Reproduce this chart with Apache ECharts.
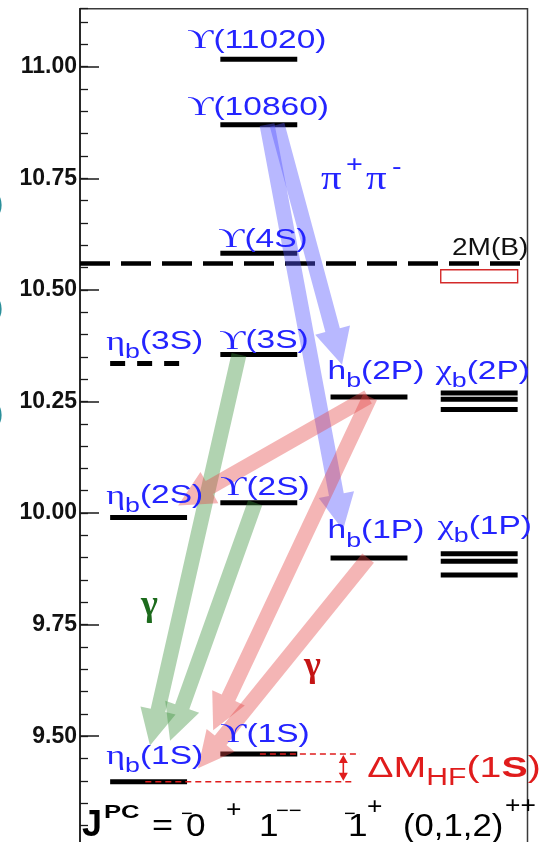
<!DOCTYPE html>
<html>
<head>
<meta charset="utf-8">
<title>Bottomonium spectrum</title>
<script src="https://cdn.jsdelivr.net/npm/echarts@6.0.0/dist/echarts.min.js"></script>
<style>
  html, body { margin: 0; padding: 0; background: #ffffff; }
  #chart { width: 539px; height: 842px; }
</style>
</head>
<body>
<div id="chart"></div>
<script>
// ---- bottomonium levels (mass in GeV); column 1 = ηb, 2 = ϒ, 3 = hb, 4 = χb
const stateNames  = ['ηb(1S)', 'ηb(2S)', 'ηb(3S)', 'ϒ(1S)', 'ϒ(2S)', 'ϒ(3S)', 'ϒ(4S)', 'ϒ(10860)', 'ϒ(11020)',
                     'hb(1P)', 'hb(2P)', 'χb2(1P)', 'χb1(1P)', 'χb0(1P)', 'χb2(2P)', 'χb1(2P)', 'χb0(2P)'];
const stateColumn = [1, 1, 1, 2, 2, 2, 2, 2, 2, 3, 3, 4, 4, 4, 4, 4, 4];
const stateMass   = [9.398, 9.990, 10.335, 9.460, 10.023, 10.355, 10.582, 10.870, 11.017,
                     9.899, 10.260, 9.909, 9.892, 9.861, 10.269, 10.255, 10.232];
const stateSeen   = [1, 1, 0, 1, 1, 1, 1, 1, 1, 1, 1, 1, 1, 1, 1, 1, 1];

// open-bottom threshold 2M(B) and the χb(3P) mass band
const thresholdMass = 10.559;
const chib3PBand = [10.516, 10.545];

// transitions: 0 = π+π−, 1 = M1 γ (ϒ → ηb), 2 = E1 γ (hb → ηb)
const transFrom = ['ϒ(10860)', 'ϒ(10860)', 'ϒ(3S)', 'ϒ(2S)', 'hb(2P)', 'hb(2P)', 'hb(1P)'];
const transTo   = ['hb(2P)', 'hb(1P)', 'ηb(1S)', 'ηb(1S)', 'ηb(2S)', 'ηb(1S)', 'ηb(1S)'];
const transKind = [0, 0, 1, 1, 2, 2, 2];

// multiplet labels and the state each one sits on
const labelState = ['ϒ(11020)', 'ϒ(10860)', 'ϒ(4S)', 'ηb(3S)', 'ϒ(3S)', 'hb(2P)', 'χb2(2P)',
                    'ηb(2S)', 'ϒ(2S)', 'hb(1P)', 'χb2(1P)', 'ηb(1S)', 'ϒ(1S)'];
const labelText  = ['{u|ϒ}{t|(11020)}', '{u|ϒ}{t|(10860)}', '{u|ϒ}{t|(4S)}', '{g|η}{s|b}{t|(3S)}',
                    '{u|ϒ}{t|(3S)}', '{t|h}{s|b}{t|(2P)}', '{g|χ}{s|b}{t|(2P)}', '{g|η}{s|b}{t|(2S)}',
                    '{u|ϒ}{t|(2S)}', '{t|h}{s|b}{t|(1P)}', '{g|χ}{s|b}{t|(1P)}', '{g|η}{s|b}{t|(1S)}',
                    '{u|ϒ}{t|(1S)}'];

// hyperfine splitting of the 1S states
const hfStates = ['ηb(1S)', 'ϒ(1S)'];

// mass axis
const yMin = 9.25, yMax = 11.13, yStep = 0.25, yMinorStep = 0.05;

// ---- layout
const X_MIN = 0.3775, X_MAX = 4.4383, BAR_HALF = 0.349;
const PX_PER_GEV = 446.3;
const arrowStartX = [2.166, 2.075, 1.820, 1.967, 2.992, 3.010, 2.992];
const arrowTipX   = [2.755, 2.764, 1.013, 1.195, 1.268, 1.586, 1.448];
const arrowTipGap = [0.072, 0.063, 0.081, 0.092, 0.027, 0.115, 0.030];
const labelOffset = [[-33, -18], [-33, -17], [-2, -13], [-4, -21], [-1, -13], [-3, -25], [-5, -21],
                     [-4, -21], [0, -15], [-3, -27], [-3, -27], [-4, -25], [0, -19]];
const ARROW_FILL = ['rgba(85,85,255,0.42)', 'rgba(60,145,60,0.40)', 'rgba(228,70,70,0.40)'];
const BLUE = '#2424ff';
const RED = '#e01c1c';
const SANS = '"Liberation Sans", Arial, sans-serif';
const SERIF = '"Liberation Serif", "DejaVu Serif", serif';

const massOf = n => stateMass[stateNames.indexOf(n)];
const colOf = n => stateColumn[stateNames.indexOf(n)];

const levelData = stateNames.map((n, i) => [stateColumn[i], stateMass[i], stateSeen[i]]);
const arrowData = transFrom.map((f, i) => [arrowStartX[i], massOf(f), arrowTipX[i], massOf(transTo[i]) + arrowTipGap[i], transKind[i]]);
const labelData = labelState.map((n, i) => [colOf(n), massOf(n), i]);

const LABEL_RICH = {
  u: { fontFamily: SERIF, fontSize: 27, fill: BLUE, lineHeight: 34 },
  g: { fontFamily: SERIF, fontSize: 27, fill: BLUE, lineHeight: 34 },
  t: { fontFamily: SANS, fontSize: 25, fill: BLUE, lineHeight: 34 },
  s: { fontFamily: SANS, fontSize: 20, fill: BLUE, lineHeight: 20, padding: [20, 0, 0, 0] }
};

function renderLevel(params, api) {
  const col = api.value(0), m = api.value(1), seen = api.value(2);
  const p0 = api.coord([col - BAR_HALF, m]);
  const p1 = api.coord([col + BAR_HALF, m]);
  return {
    type: 'line',
    shape: { x1: p0[0], y1: p0[1], x2: p1[0], y2: p1[1] },
    style: { stroke: '#000', lineWidth: 5, lineDash: seen ? null : [15, 12] }
  };
}

function renderArrow(params, api) {
  const a = api.coord([api.value(0), api.value(1)]);
  const b = api.coord([api.value(2), api.value(3)]);
  const kind = api.value(4);
  let dx = b[0] - a[0], dy = b[1] - a[1];
  const len = Math.hypot(dx, dy);
  dx /= len; dy /= len;
  const nx = -dy, ny = dx;
  const w = 7.5, H = 18, L = 36;
  const bx = b[0] - dx * L, by = b[1] - dy * L;
  return {
    type: 'polygon',
    shape: { points: [
      [a[0] + nx * w, a[1] + ny * w], [bx + nx * w, by + ny * w], [bx + nx * H, by + ny * H],
      [b[0], b[1]],
      [bx - nx * H, by - ny * H], [bx - nx * w, by - ny * w], [a[0] - nx * w, a[1] - ny * w]
    ] },
    style: { fill: ARROW_FILL[kind] }
  };
}

function renderLabel(params, api) {
  const i = api.value(2);
  const p = api.coord([api.value(0) - BAR_HALF, api.value(1)]);
  return {
    type: 'text',
    x: p[0] + labelOffset[i][0],
    y: p[1] + labelOffset[i][1],
    scaleX: 1.34,
    style: { text: labelText[i], rich: LABEL_RICH, align: 'left', verticalAlign: 'middle' }
  };
}

function renderBand(params, api) {
  const p0 = api.coord([api.value(0) - BAR_HALF, api.value(2)]);
  const p1 = api.coord([api.value(0) + BAR_HALF, api.value(1)]);
  return {
    type: 'rect',
    shape: { x: p0[0], y: p0[1], width: p1[0] - p0[0], height: p1[1] - p0[1] },
    style: { fill: 'none', stroke: '#d42a2a', lineWidth: 1.4 }
  };
}

// hyperfine splitting marker: dashed guides, double arrow and label
function renderHF(params, api) {
  const loCol = api.value(0), lo = api.value(1), hiCol = api.value(2), hi = api.value(3);
  const arrowX = 2.767;
  const pLo0 = api.coord([loCol - 0.03, lo]), pLo1 = api.coord([2.855, lo]);
  const pHi0 = api.coord([hiCol + 0.01, hi]), pHi1 = api.coord([2.918, hi]);
  const aTop = api.coord([arrowX, hi]), aBot = api.coord([arrowX, lo]);
  const ah = 8, aw = 4.5;
  const dash = { stroke: RED, lineWidth: 1.4, lineDash: [6, 4] };
  return {
    type: 'group',
    children: [
      { type: 'line', shape: { x1: pLo0[0], y1: pLo0[1], x2: pLo1[0], y2: pLo1[1] }, style: dash },
      { type: 'line', shape: { x1: pHi0[0], y1: pHi0[1], x2: pHi1[0], y2: pHi1[1] }, style: dash },
      { type: 'line', shape: { x1: aTop[0], y1: aTop[1] + ah, x2: aBot[0], y2: aBot[1] - ah }, style: { stroke: RED, lineWidth: 1.6 } },
      { type: 'polygon', shape: { points: [[aTop[0], aTop[1] + 1], [aTop[0] - aw, aTop[1] + ah + 1], [aTop[0] + aw, aTop[1] + ah + 1]] }, style: { fill: RED } },
      { type: 'polygon', shape: { points: [[aBot[0], aBot[1] - 1], [aBot[0] - aw, aBot[1] - ah - 1], [aBot[0] + aw, aBot[1] - ah - 1]] }, style: { fill: RED } },
      {
        type: 'text', x: aTop[0] + 24, y: (aTop[1] + aBot[1]) / 2 + 1, scaleX: 1.31,
        style: {
          text: '{t|ΔM}{s|HF}{t|(1}{b|S}{t|)}', align: 'left', verticalAlign: 'middle',
          rich: {
            t: { fontFamily: SANS, fontSize: 30, fill: RED, lineHeight: 36 },
            b: { fontFamily: SANS, fontSize: 30, fontWeight: 'bold', fill: RED, lineHeight: 36 },
            s: { fontFamily: SANS, fontSize: 23, fill: RED, lineHeight: 23, padding: [20, 0, 0, 0] }
          }
        }
      }
    ]
  };
}

// free annotations: [text, left, centerY, font, colour, scaleX]
const notes = [
  ['π', 321, 180, '34px ' + SERIF, BLUE, 1.2],
  ['+', 346, 165, '24px ' + SANS, BLUE, 1.2],
  ['π', 366, 180, '34px ' + SERIF, BLUE, 1.2],
  ['-', 392, 167, '24px ' + SANS, BLUE, 1.2],
  ['2M(B)', 452, 249, '23px ' + SANS, '#111', 1.22],
  ['γ', 141, 606, 'bold 36px ' + SERIF, '#1d6b1d', 1.0],
  ['γ', 304, 667, 'bold 36px ' + SERIF, '#c41414', 1.0],
  ['J', 82, 826, 'bold 36px ' + SANS, '#000', 1.0],
  ['PC', 104, 813, 'bold 19px ' + SANS, '#000', 1.35],
  ['=', 152, 827, '30px ' + SANS, '#000', 1.2],
  ['−', 181, 814, '20px ' + SANS, '#000', 1.0],
  ['0', 186, 827, '32px ' + SANS, '#000', 1.1],
  ['+', 226, 810, '24px ' + SANS, '#000', 1.1],
  ['1', 259, 827, '32px ' + SANS, '#000', 1.1],
  ['−−', 276, 811, '20px ' + SANS, '#000', 1.1],
  ['−', 344, 814, '20px ' + SANS, '#000', 1.0],
  ['1', 348, 827, '32px ' + SANS, '#000', 1.1],
  ['+', 367, 807, '24px ' + SANS, '#000', 1.1],
  ['(0,1,2)', 403, 827, '31px ' + SANS, '#000', 1.12],
  ['++', 505, 806, '24px ' + SANS, '#000', 1.1],
  [')', -6, 204, '28px ' + SANS, '#2b8f9a', 1.0],
  [')', -6, 308, '28px ' + SANS, '#2b8f9a', 1.0],
  [')', -6, 414, '28px ' + SANS, '#2b8f9a', 1.0]
];

const chart = echarts.init(document.getElementById('chart'), null, { renderer: 'canvas' });

const tickAxisBase = {
  type: 'value', min: yMin, max: yMax, position: 'left',
  splitLine: { show: false }
};

chart.setOption({
  animation: false,
  backgroundColor: '#ffffff',
  grid: {
    left: 80, width: 447.5, top: 8.7, height: (yMax - yMin) * PX_PER_GEV,
    outerBoundsMode: 'none', containLabel: false,
    show: true, borderColor: '#3a3a3a', borderWidth: 1.5, backgroundColor: 'transparent'
  },
  xAxis: { type: 'value', min: X_MIN, max: X_MAX, show: false },
  yAxis: [
    Object.assign({}, tickAxisBase, {
      interval: yStep,
      axisLine: { show: true, lineStyle: { color: '#1a1a1a', width: 1.6 } },
      axisTick: { show: true, inside: true, length: 19, lineStyle: { color: '#1a1a1a', width: 1.5 } },
      axisLabel: {
        show: true, showMinLabel: false, showMaxLabel: false, margin: 3,
        color: '#111', fontFamily: SANS, fontWeight: 'bold', fontSize: 23,
        padding: [10, 0, 0, 0],
        formatter: v => v.toFixed(2)
      }
    }),
    Object.assign({}, tickAxisBase, {
      interval: yMinorStep,
      axisLine: { show: false },
      axisTick: { show: true, inside: true, length: 8, lineStyle: { color: '#1a1a1a', width: 1.3 } },
      axisLabel: { show: false }
    })
  ],
  graphic: notes.map(n => ({
    type: 'text', x: n[1], y: n[2], scaleX: n[5], z: 20,
    style: { text: n[0], font: n[3], fill: n[4], align: 'left', verticalAlign: 'middle' }
  })),
  series: [
    {
      type: 'line', z: 2, silent: true, symbol: 'none',
      data: [[X_MIN, thresholdMass], [X_MAX, thresholdMass]],
      lineStyle: { color: '#000', width: 4.5, type: [30, 11] }
    },
    {
      type: 'custom', z: 2, silent: true, renderItem: renderBand,
      encode: { x: 0, y: [1, 2] },
      data: [[4, chib3PBand[0], chib3PBand[1]]]
    },
    {
      type: 'custom', z: 3, silent: true, renderItem: renderLevel,
      encode: { x: 0, y: 1 }, data: levelData
    },
    {
      type: 'custom', z: 4, silent: true, renderItem: renderArrow,
      encode: { x: [0, 2], y: [1, 3] }, data: arrowData
    },
    {
      type: 'custom', z: 5, silent: true, renderItem: renderHF,
      encode: { x: [0, 2], y: [1, 3] },
      data: [[colOf(hfStates[0]), massOf(hfStates[0]), colOf(hfStates[1]), massOf(hfStates[1])]]
    },
    {
      type: 'custom', z: 6, silent: true, renderItem: renderLabel,
      encode: { x: 0, y: 1 }, data: labelData
    }
  ]
});
</script>
</body>
</html>
